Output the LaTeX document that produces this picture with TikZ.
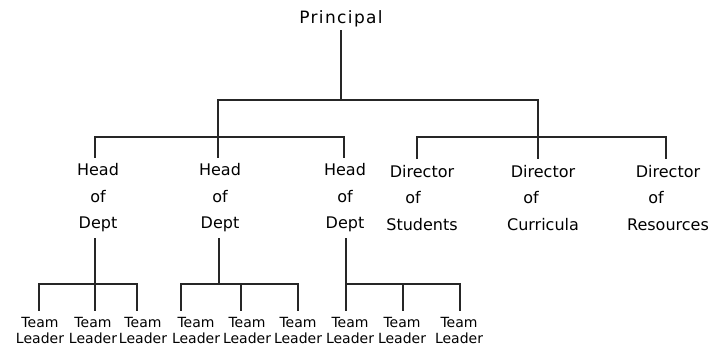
\documentclass[tikz,border=0pt]{standalone}
\usepackage{fontspec}
\setmainfont{DejaVu Sans}
\newfontfamily\widefont[LetterSpace=8]{DejaVu Sans}
\begin{document}
\begin{tikzpicture}[x=1pt,y=-1pt,
  line/.style={line width=1.1pt, draw=black!85},
  lab/.style={align=center, font=\fontsize{16}{26.5}\selectfont, inner xsep=2pt, inner ysep=6pt},
  team/.style={align=center, font=\fontsize{14}{16}\selectfont, inner xsep=1pt, inner ysep=6pt},
  toplab/.style={font=\widefont\fontsize{17}{20}\selectfont, inner sep=3pt}]
\path[use as bounding box, fill=white] (0,0) rectangle (721,359);

% nodes
\node[toplab] (p) at (341,19) {Principal};
\node[lab] (h1) at (98,198) {Head\\of\\Dept};
\node[lab] (h2) at (220,198) {Head\\of\\Dept};
\node[lab] (h3) at (345,198) {Head\\of\\Dept};
\node[lab] (d1) at (422,198) {Director\\of\rule{18pt}{0pt}\\Students};
\node[lab] (d2) at (543,198) {Director\\of\rule{24pt}{0pt}\\Curricula};
\node[lab] (d3) at (668,198) {Director\\of\rule{24pt}{0pt}\\Resources};

\node[team] (t1) at (40,330) {Team\\Leader};
\node[team] (t2) at (93,330) {Team\\Leader};
\node[team] (t3) at (143,330) {Team\\Leader};
\node[team] (t4) at (196,330) {Team\\Leader};
\node[team] (t5) at (247,330) {Team\\Leader};
\node[team] (t6) at (298,330) {Team\\Leader};
\node[team] (t7) at (350,330) {Team\\Leader};
\node[team] (t8) at (402,330) {Team\\Leader};
\node[team] (t9) at (459,330) {Team\\Leader};

% junction coordinates
\coordinate (tb) at (341,100);
\coordinate (hb) at (218,137);
\coordinate (db) at (538,137);
\coordinate (hl) at (95,137);
\coordinate (hr) at (344,137);
\coordinate (dl) at (417,137);
\coordinate (dr) at (666,137);

% top level
\draw[line] (p) -- (tb);
\draw[line] (hb) |- (tb) -| (db);
\draw[line] (db) -- (db |- d2.north);

% heads bar
\draw[line] (hl |- h1.north) -- (hl) -- (hr) -- (hr |- h3.north);
\draw[line] (hb) -- (hb |- h2.north);

% directors bar
\draw[line] (dl |- d1.north) -- (dl) -- (dr) -- (dr |- d3.north);

% group 1
\coordinate (g1) at (95,284);
\coordinate (g1a) at (39,284);
\coordinate (g1c) at (137,284);
\draw[line] (g1 |- h1.south) -- (g1) -- (g1 |- t2.north);
\draw[line] (g1a |- t1.north) -- (g1a) -- (g1c) -- (g1c |- t3.north);

% group 2
\coordinate (g2) at (219,284);
\coordinate (g2a) at (181,284);
\coordinate (g2b) at (241,284);
\coordinate (g2c) at (298,284);
\draw[line] (g2 |- h2.south) -- (g2);
\draw[line] (g2a |- t4.north) -- (g2a) -- (g2c) -- (g2c |- t6.north);
\draw[line] (g2b) -- (g2b |- t5.north);

% group 3
\coordinate (g3) at (346,284);
\coordinate (g3b) at (403,284);
\coordinate (g3c) at (460,284);
\draw[line] (g3 |- h3.south) -- (g3) -- (g3 |- t7.north);
\draw[line] (g3) -- (g3c) -- (g3c |- t9.north);
\draw[line] (g3b) -- (g3b |- t8.north);
\end{tikzpicture}
\end{document}
